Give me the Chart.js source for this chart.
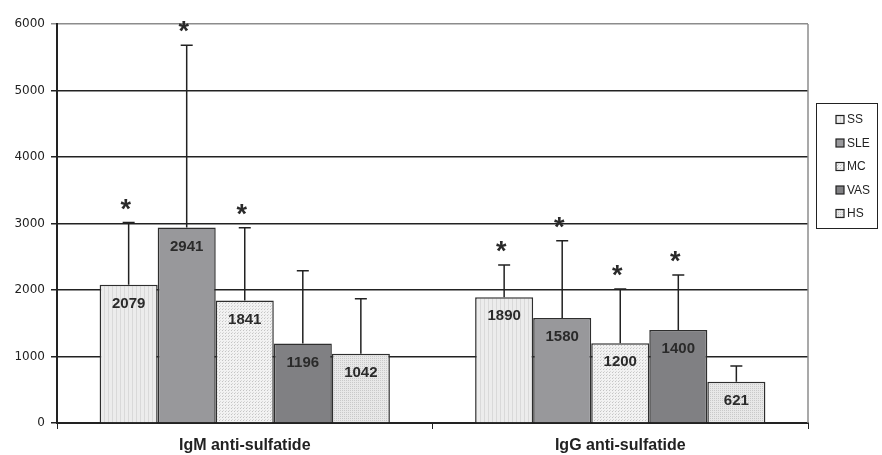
<!DOCTYPE html>
<html>
<head>
<meta charset="utf-8">
<script src="https://cdn.jsdelivr.net/npm/chart.js@4"></script>
<style>
html, body { margin: 0; padding: 0; background: #fff; }
</style>
</head>
<body>
<canvas id="myChart" width="882" height="455"></canvas>
<script>
// categories and series
const groups = ['IgM anti-sulfatide', 'IgG anti-sulfatide'];
const seriesNames = ['SS', 'SLE', 'MC', 'VAS', 'HS'];
const ss = [2079, 1890];
const sle = [2941, 1580];
const mc = [1841, 1200];
const vas = [1196, 1400];
const hs = [1042, 621];
// upper error bars
const ssErr = [935, 486];
const sleErr = [2740, 1161];
const mcErr = [1095, 815];
const vasErr = [1095, 826];
const hsErr = [825, 236];
// significance stars
const ssStar = [true, true];
const sleStar = [true, true];
const mcStar = [true, true];
const vasStar = [false, true];
const hsStar = [false, false];
const yTicks = [0, 1000, 2000, 3000, 4000, 5000, 6000];

// small fill patterns like the old office chart
function makePattern(kind) {
    const c = document.createElement('canvas');
    const g = c.getContext('2d');
    if (kind === 'stripes') {
        c.width = 4; c.height = 4;
        g.fillStyle = '#ececec'; g.fillRect(0, 0, 4, 4);
        g.fillStyle = '#d9d9d9'; g.fillRect(0, 0, 1, 4);
    } else if (kind === 'dots') {
        c.width = 3; c.height = 3;
        g.fillStyle = '#f2f2f2'; g.fillRect(0, 0, 3, 3);
        g.fillStyle = '#c4c4c4'; g.fillRect(0, 0, 1, 1);
        g.fillStyle = '#d8d8d8'; g.fillRect(1, 2, 1, 1);
    } else {
        c.width = 2; c.height = 2;
        g.fillStyle = '#e8e8e8'; g.fillRect(0, 0, 2, 2);
        g.fillStyle = '#c9c9c9'; g.fillRect(0, 0, 1, 1);
    }
    return g.createPattern(c, 'repeat');
}

const fills = [makePattern('stripes'), '#98989b', makePattern('dots'), '#808083', makePattern('grid')];
const values = [ss, sle, mc, vas, hs];
const errs = [ssErr, sleErr, mcErr, vasErr, hsErr];
const stars = [ssStar, sleStar, mcStar, vasStar, hsStar];

const extras = {
    id: 'extras',
    afterDatasetsDraw(chart) {
        const c = chart.ctx;
        const y = chart.scales.y;
        c.save();
        chart.data.datasets.forEach((ds, i) => {
            chart.getDatasetMeta(i).data.forEach((bar, j) => {
                const top = y.getPixelForValue(values[i][j] + errs[i][j]);
                c.strokeStyle = '#222';
                c.lineWidth = 1.5;
                c.beginPath();
                c.moveTo(bar.x, bar.y);
                c.lineTo(bar.x, top);
                c.moveTo(bar.x - 6, top);
                c.lineTo(bar.x + 6, top);
                c.stroke();

                c.fillStyle = '#2a2a2a';
                c.textAlign = 'center';
                c.textBaseline = 'middle';
                c.font = 'bold 15px "Liberation Sans", Arial, sans-serif';
                c.fillText(String(values[i][j]), bar.x, bar.y + 19);

                if (stars[i][j]) {
                    c.font = 'bold 27px "Liberation Sans", Arial, sans-serif';
                    c.textBaseline = 'alphabetic';
                    c.fillText('*', bar.x - 3, top - 5);
                }
            });
        });
        c.restore();
    },
    afterDraw(chart) {
        const c = chart.ctx;
        const a = chart.chartArea;
        c.save();
        c.strokeStyle = '#8c8c8c';
        c.lineWidth = 1.5;
        c.beginPath();
        c.moveTo(a.right, a.top);
        c.lineTo(a.right, a.bottom);
        c.stroke();

        // legend box
        c.strokeStyle = '#222';
        c.lineWidth = 1;
        c.strokeRect(816.5, 103.5, 61, 125);
        c.font = '12px "Liberation Sans", Arial, sans-serif';
        c.textAlign = 'left';
        c.textBaseline = 'middle';
        seriesNames.forEach((name, i) => {
            const cy = 119.5 + i * 23.5;
            c.fillStyle = fills[i];
            c.fillRect(836, cy - 4, 8, 8);
            c.strokeStyle = '#222';
            c.lineWidth = 1.2;
            c.strokeRect(836, cy - 4, 8, 8);
            c.fillStyle = '#222';
            c.fillText(name, 847, cy + 0.5);
        });
        c.restore();
    }
};

const ctx = document.getElementById('myChart');

new Chart(ctx, {
    type: 'bar',
    data: {
        labels: groups,
        datasets: seriesNames.map((name, i) => ({
            label: name,
            data: values[i],
            backgroundColor: fills[i],
            borderColor: '#2e2e2e',
            borderWidth: 1.5,
            categoryPercentage: 0.773,
            barPercentage: 1
        }))
    },
    options: {
        responsive: false,
        animation: false,
        devicePixelRatio: 1,
        layout: {
            padding: { left: 0, right: 74, top: 24, bottom: 0 }
        },
        scales: {
            x: {
                afterFit: function(scale) { scale.height = 32; },
                grid: {
                    drawOnChartArea: false,
                    drawTicks: true,
                    tickLength: 6,
                    color: '#222',
                    offset: true
                },
                border: { color: '#222', width: 2 },
                ticks: {
                    color: '#222',
                    padding: 7,
                    font: { family: '"Liberation Sans", Arial, sans-serif', size: 16, weight: 'bold' }
                }
            },
            y: {
                min: 0,
                max: 6000,
                afterFit: function(scale) { scale.width = 57; },
                afterBuildTicks: function(scale) {
                    scale.ticks = yTicks.map(v => ({ value: v }));
                },
                grid: {
                    color: function(c) { return c.tick && c.tick.value === 6000 ? '#8c8c8c' : '#222'; },
                    lineWidth: 1.5,
                    tickLength: 6
                },
                border: { color: '#222', width: 2 },
                ticks: {
                    color: '#222',
                    padding: 6,
                    callback: function(value) { return String(value); },
                    font: { family: '"DejaVu Sans", Verdana, sans-serif', size: 12 }
                }
            }
        },
        plugins: {
            legend: { display: false },
            tooltip: { enabled: false }
        }
    },
    plugins: [extras]
});
</script>
</body>
</html>
